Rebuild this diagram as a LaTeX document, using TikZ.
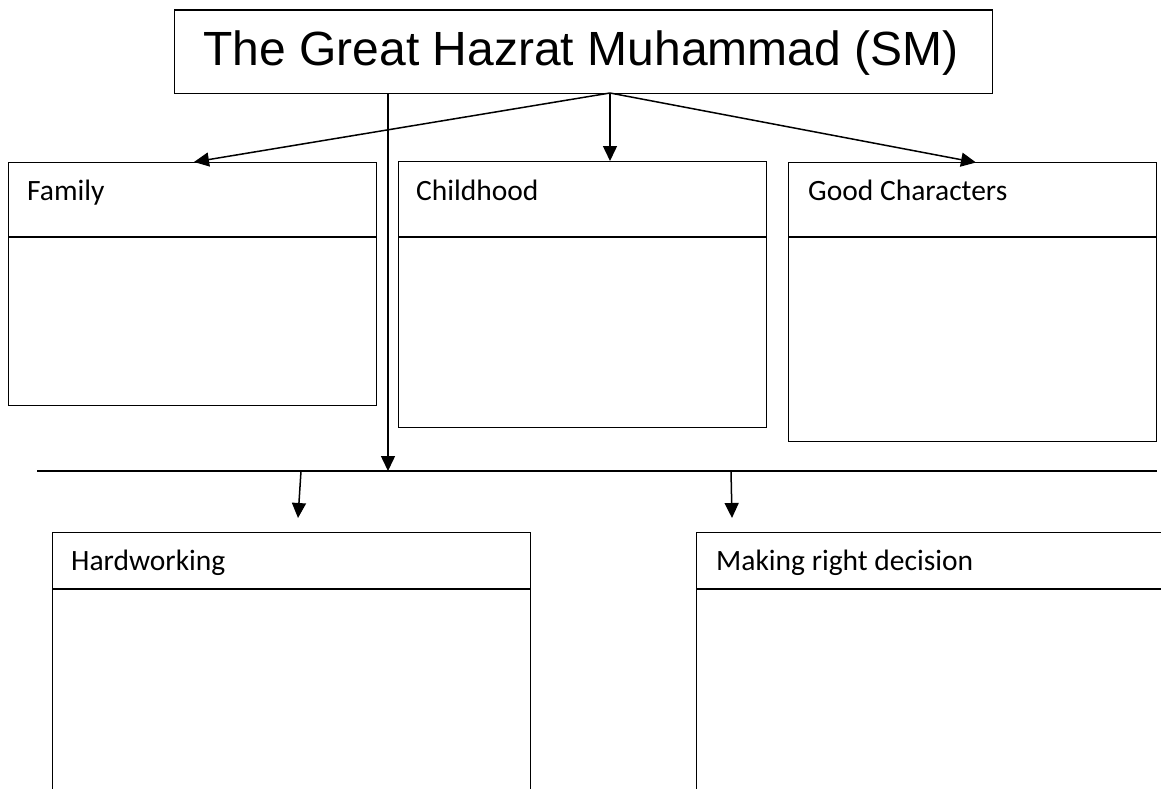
\documentclass[tikz,border=0pt]{standalone}
\usepackage{fontspec}
\setmainfont{Carlito}
\newfontfamily\titlefont{Liberation Sans}
\usetikzlibrary{arrows.meta}
\tikzset{
  box/.style={draw=black, line width=1.4pt, rectangle, inner sep=0pt, anchor=north west},
  divider/.style={draw=black, line width=1.4pt},
  lbl/.style={anchor=base west, inner sep=0pt, font=\fontsize{29.5}{34}\selectfont},
  titletxt/.style={anchor=base, inner sep=0pt, font=\titlefont\fontsize{48}{56}\selectfont},
  arr/.style={draw=black, line width=1.5pt, -{Triangle[length=15pt,width=14pt]}},
  barline/.style={draw=black, line width=1.5pt}
}
\begin{document}
\begin{tikzpicture}[x=1pt,y=-1pt]
\useasboundingbox (0,0) rectangle (1161,789);
\clip (0,0) rectangle (1161,789);

% title box
\node[box, minimum width=818pt, minimum height=83.5pt] (top) at (174,9.3) {};
\node[titletxt] (title) at (581,65.5) {The Great Hazrat Muhammad (SM)};

% upper boxes
\node[box, minimum width=368pt, minimum height=243pt] (fam) at (8,162) {};
\node[box, minimum width=368pt, minimum height=266pt] (child) at (398,161) {};
\node[box, minimum width=368pt, minimum height=279pt] (good) at (788,162) {};

\draw[divider] (8,237) -- (376,237);
\draw[divider] (398,237) -- (766,237);
\draw[divider] (788,237) -- (1156,237);

\node[lbl] (famL) at (27,200.7) {Family};
\node[lbl] (childL) at (416,200.7) {Childhood};
\node[lbl] (goodL) at (808,200.7) {Good Characters};

% lower boxes (cut off by page)
\node[box, minimum width=478pt, minimum height=400pt] (hard) at (52,532) {};
\node[box, minimum width=600pt, minimum height=400pt] (make) at (696,532) {};
\draw[divider] (52,589) -- (530,589);
\draw[divider] (696,589) -- (1296,589);

\node[lbl] (hardL) at (71,570) {Hardworking};
\node[lbl] (makeL) at (716,570) {Making right decision};

% connectors from title
\coordinate (src) at (610,93);
\coordinate (famT) at (194,162);
\coordinate (childT) at (610,161);
\coordinate (goodT) at (976,162.5);
\draw[arr] (src) -- (famT);
\draw[arr] (src) -- (childT);
\draw[arr] (src) -- (goodT);

% spine down to bar
\coordinate (barL) at (37,471);
\coordinate (barR) at (1157,471);
\coordinate (spine) at (388,471);
\draw[barline] (barL) -- (barR);
\draw[arr] (spine |- top.south) -- (spine);

% arrows to lower boxes
\coordinate (h1) at (301,471);
\coordinate (h1t) at (298,518);
\coordinate (h2) at (731,471);
\coordinate (h2t) at (732,518);
\draw[arr] (h1) -- (h1t);
\draw[arr] (h2) -- (h2t);
\end{tikzpicture}
\end{document}
